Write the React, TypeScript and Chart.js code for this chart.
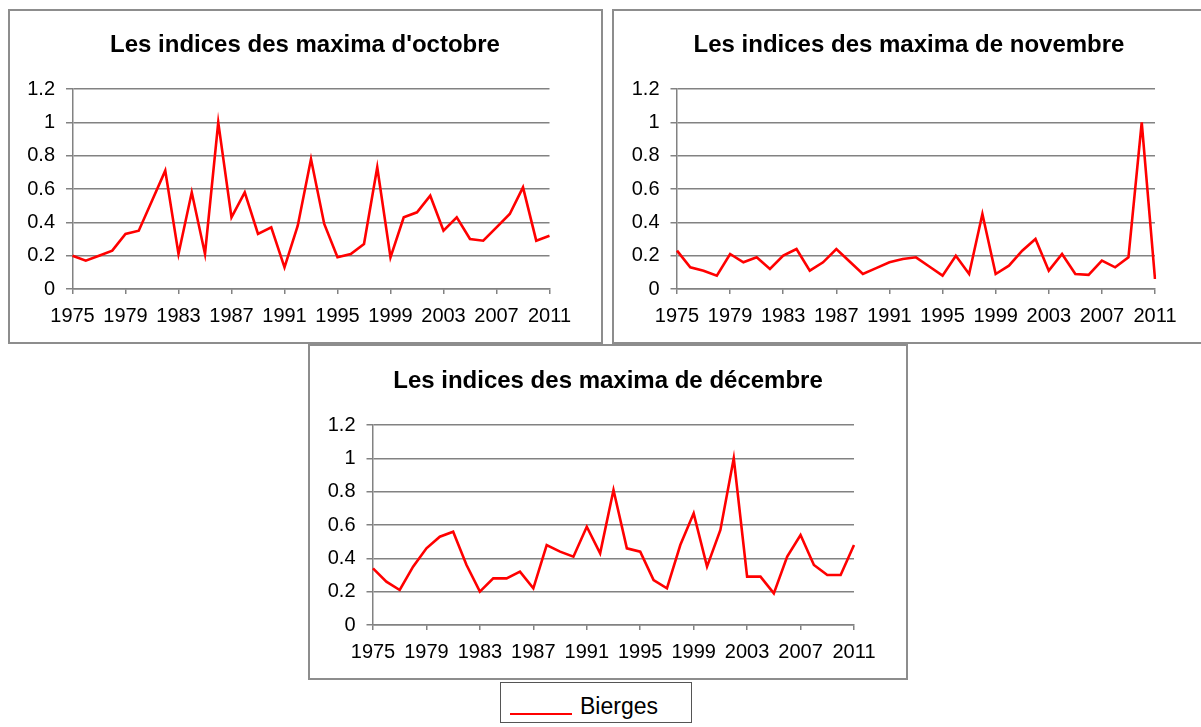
import React, { useEffect, useRef } from "react";
import { Chart, registerables } from "chart.js";

Chart.register(...registerables);

const years = [
  "1975", "1976", "1977", "1978", "1979", "1980", "1981", "1982", "1983", "1984",
  "1985", "1986", "1987", "1988", "1989", "1990", "1991", "1992", "1993", "1994",
  "1995", "1996", "1997", "1998", "1999", "2000", "2001", "2002", "2003", "2004",
  "2005", "2006", "2007", "2008", "2009", "2010", "2011",
];

const octobre = [
  0.2, 0.17, 0.2, 0.23, 0.33, 0.35, 0.53, 0.71, 0.21, 0.58,
  0.21, 1.0, 0.43, 0.58, 0.33, 0.37, 0.13, 0.38, 0.78, 0.39,
  0.19, 0.21, 0.27, 0.73, 0.19, 0.43, 0.46, 0.56, 0.35, 0.43,
  0.3, 0.29, 0.37, 0.45, 0.61, 0.29, 0.32,
];

const novembre = [
  0.23, 0.13, 0.11, 0.08, 0.21, 0.16, 0.19, 0.12, 0.2, 0.24,
  0.11, 0.16, 0.24, 0.165, 0.09, 0.125, 0.16, 0.18, 0.19, 0.135,
  0.08, 0.2, 0.09, 0.45, 0.09, 0.14, 0.23, 0.3, 0.11, 0.21,
  0.09, 0.085, 0.17, 0.13, 0.19, 1.0, 0.06,
];

const decembre = [
  0.34, 0.26, 0.21, 0.35, 0.46, 0.53, 0.56, 0.36, 0.2, 0.28,
  0.28, 0.32, 0.22, 0.48, 0.44, 0.41, 0.59, 0.43, 0.81, 0.46,
  0.44, 0.27, 0.22, 0.48, 0.67, 0.35, 0.57, 1.0, 0.29, 0.29,
  0.19, 0.41, 0.54, 0.36, 0.3, 0.3, 0.48,
];

const seriesName = "Bierges";
const titleOct = "Les indices des maxima d'octobre";
const titleNov = "Les indices des maxima de novembre";
const titleDec = "Les indices des maxima de décembre";
const yMin = 0;
const yMax = 1.2;
const yStep = 0.2;
const labelEvery = 4;

const FONT = "'Liberation Sans', Arial, Helvetica, sans-serif";
const GRID = "#828282";
const RED = "#ff0000";

type Geo = {
  left: number;
  top: number;
  width: number;
  height: number;
  yAxisW: number;
  rightW: number;
  titleTop: number;
  titleBottom: number;
  padBottom: number;
};

function MonthChart({ title, values, geo }: { title: string; values: number[]; geo: Geo }) {
  const ref = useRef<HTMLCanvasElement | null>(null);
  useEffect(() => {
    if (!ref.current) return;
    const chart = new Chart(ref.current, {
      type: "line",
      data: {
        labels: years,
        datasets: [
          {
            label: seriesName,
            data: values,
            borderColor: RED,
            backgroundColor: RED,
            borderWidth: 2.6,
            pointRadius: 0,
            tension: 0,
            fill: false,
            yAxisID: "y",
          },
        ],
      },
      options: {
        responsive: false,
        animation: false,
        devicePixelRatio: 1,
        layout: { padding: { left: 0, top: 0, right: 0, bottom: geo.padBottom } },
        plugins: {
          legend: { display: false },
          tooltip: { enabled: false },
          title: {
            display: true,
            text: title,
            color: "#000",
            font: { family: FONT, size: 24, weight: "bold", lineHeight: 1.2 },
            padding: { top: geo.titleTop, bottom: geo.titleBottom },
          },
        },
        scales: {
          x: {
            type: "category",
            offset: false,
            grid: {
              display: true,
              drawOnChartArea: false,
              drawTicks: true,
              tickLength: 5,
              lineWidth: 1.5,
              tickColor: (ctx: any) => (ctx.index % labelEvery === 0 ? GRID : "rgba(0,0,0,0)"),
            },
            border: { display: true, color: GRID, width: 1.5 },
            ticks: {
              autoSkip: false,
              maxRotation: 0,
              minRotation: 0,
              padding: 10,
              color: "#000",
              font: { family: FONT, size: 20 },
              callback: (_v: any, i: number) => (i % labelEvery === 0 ? years[i] : ""),
            },
            afterFit: (s: any) => {
              s.height = 40;
            },
          },
          y: {
            type: "linear",
            position: "left",
            min: yMin,
            max: yMax,
            ticks: {
              stepSize: yStep,
              padding: 11,
              color: "#000",
              font: { family: FONT, size: 20 },
              callback: (v: any) => String(Math.round(Number(v) * 10) / 10),
            },
            grid: { color: GRID, lineWidth: 1.5, tickLength: 6.5, drawTicks: true },
            border: { display: true, color: GRID, width: 1.5 },
            afterFit: (s: any) => {
              s.width = geo.yAxisW;
            },
          },
          yRight: {
            type: "linear",
            position: "right",
            display: true,
            ticks: { display: false },
            grid: { display: false, drawOnChartArea: false, drawTicks: false },
            border: { display: false },
            afterFit: (s: any) => {
              s.width = geo.rightW;
            },
          },
        },
      } as any,
    });
    return () => chart.destroy();
  }, [title, values, geo]);

  return (
    <canvas
      ref={ref}
      width={geo.width}
      height={geo.height}
      style={{
        position: "absolute",
        left: geo.left,
        top: geo.top,
        width: geo.width,
        height: geo.height,
      }}
    />
  );
}

const geoOct: Geo = { left: 10, top: 11, width: 590, height: 330, yAxisW: 62.5, rightW: 50.5, titleTop: 20, titleBottom: 29.2, padBottom: 12 };
const geoNov: Geo = { left: 614, top: 11, width: 590, height: 330, yAxisW: 63, rightW: 49, titleTop: 20, titleBottom: 29.2, padBottom: 12 };
const geoDec: Geo = { left: 310, top: 346, width: 596, height: 332, yAxisW: 63, rightW: 52, titleTop: 20.5, titleBottom: 29.7, padBottom: 13 };

const boxStyle = (left: number, top: number, width: number, height: number): React.CSSProperties => ({
  position: "absolute",
  left,
  top,
  width,
  height,
  boxSizing: "border-box",
  border: "2px solid #8d8d8d",
  background: "#fff",
});

export default function App() {
  return (
    <div
      style={{
        position: "fixed",
        left: 0,
        top: 0,
        width: 1201,
        height: 727,
        overflow: "hidden",
        background: "#fff",
      }}
    >
      <div style={boxStyle(8, 9, 595, 335)} />
      <div style={boxStyle(612, 9, 595, 335)} />
      <div style={boxStyle(308, 344, 600, 336)} />
      <MonthChart title={titleOct} values={octobre} geo={geoOct} />
      <MonthChart title={titleNov} values={novembre} geo={geoNov} />
      <MonthChart title={titleDec} values={decembre} geo={geoDec} />
      <div
        style={{
          position: "absolute",
          left: 500,
          top: 682,
          width: 192,
          height: 41,
          boxSizing: "border-box",
          border: "1px solid #555",
          background: "#fff",
        }}
      />
      <div
        style={{
          position: "absolute",
          left: 510,
          top: 712.5,
          width: 62,
          height: 2,
          background: RED,
        }}
      />
      <div
        style={{
          position: "absolute",
          left: 580,
          top: 695,
          fontFamily: FONT,
          fontSize: 23,
          lineHeight: "23px",
          color: "#000",
          whiteSpace: "nowrap",
        }}
      >
        {seriesName}
      </div>
    </div>
  );
}
